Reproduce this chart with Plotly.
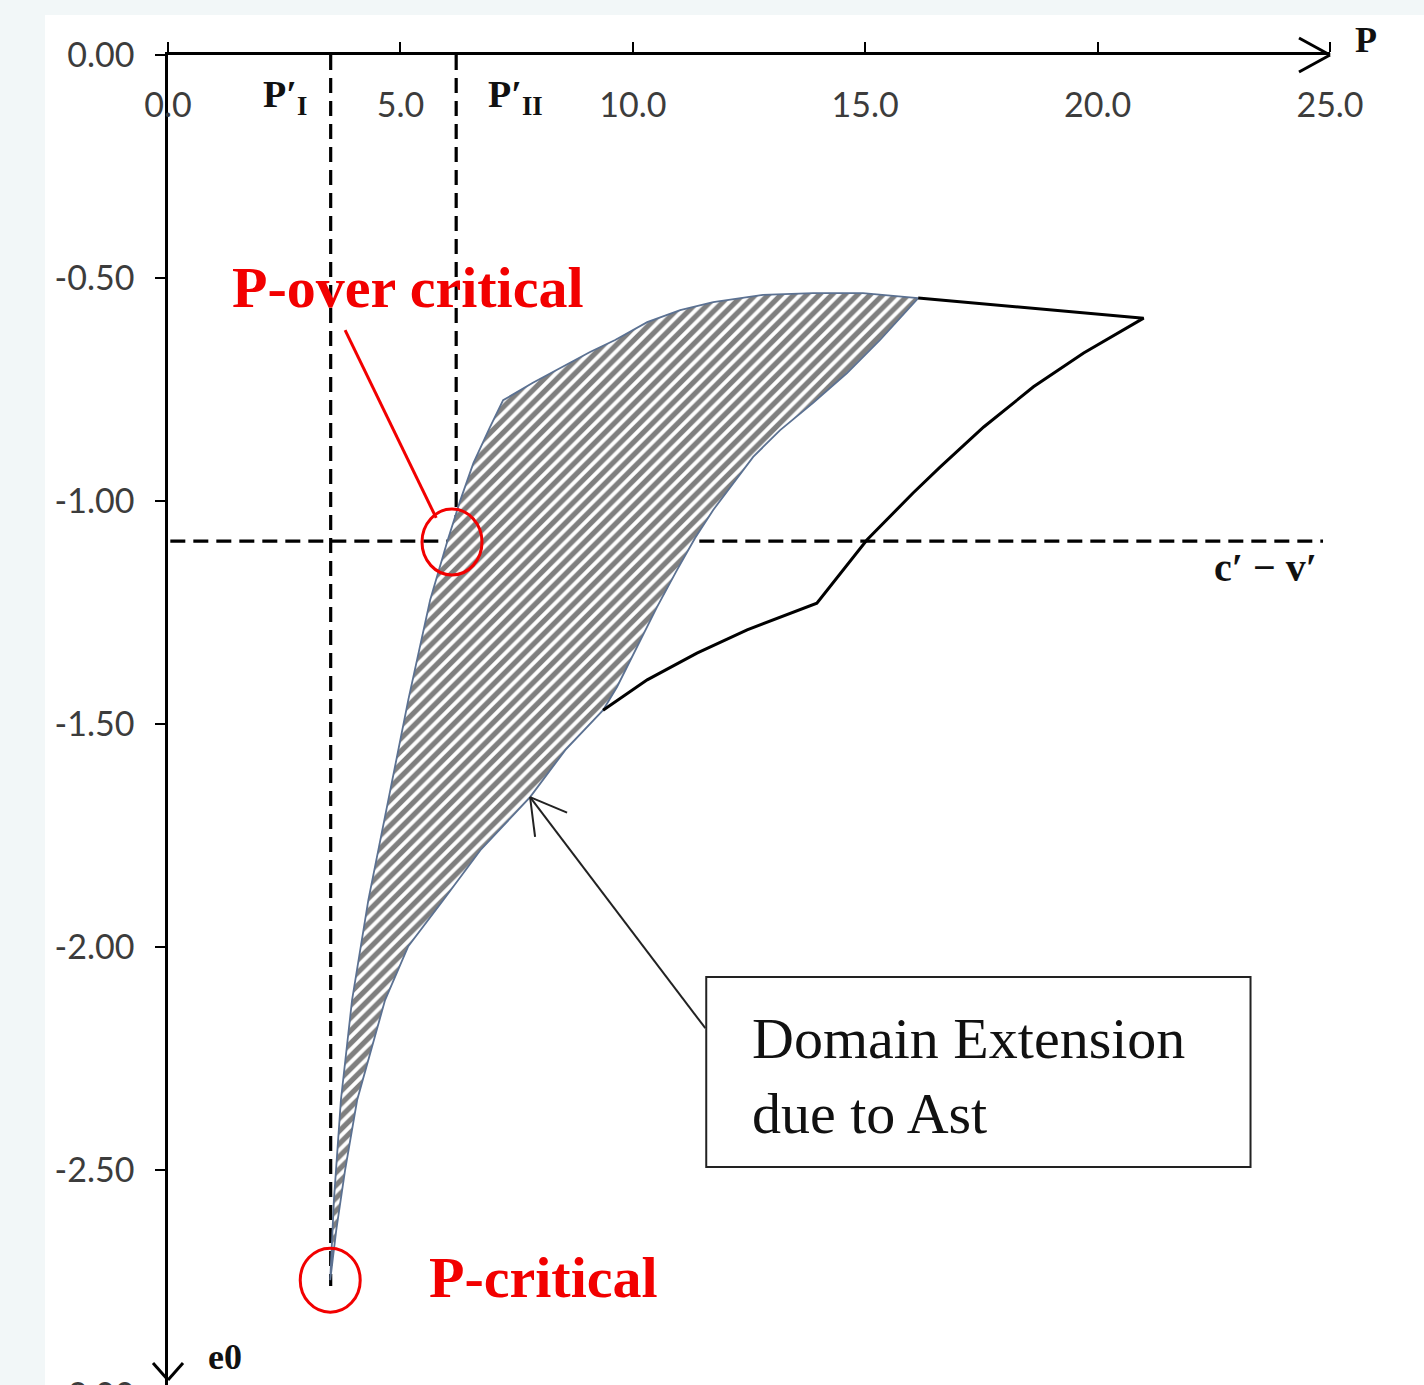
import plotly.graph_objects as go

# ---------------- data ----------------
P_I = 3.5          # P'_I
P_II = 6.2         # P'_II
CV = -1.09         # c' - v' level

# inner (hatched) domain: left/upper boundary, bottom -> top -> right
inner_x = [3.49, 3.57, 3.72, 3.96, 4.31, 4.74, 5.17, 5.64, 6.01, 6.29, 6.57, 6.93, 7.21,
           7.85, 8.58, 9.08, 9.62, 10.31, 11.02, 11.73, 12.80, 13.88, 14.95, 16.14]
inner_y = [-2.747, -2.567, -2.343, -2.119, -1.895, -1.670, -1.446, -1.222, -1.090, -0.998,
           -0.915, -0.834, -0.774, -0.735, -0.695, -0.666, -0.639, -0.599, -0.572, -0.554,
           -0.538, -0.534, -0.534, -0.545]
# right boundary, top -> bottom
outer_x = [16.14, 15.32, 14.61, 13.88, 13.17, 12.59, 12.09, 11.73, 11.34, 10.95, 10.52, 10.09,
           9.66, 9.36, 8.55, 7.79, 6.72, 5.92, 5.17, 4.67, 4.07, 3.81, 3.62, 3.49]
outer_y = [-0.545, -0.639, -0.713, -0.780, -0.841, -0.901, -0.969, -1.020, -1.083, -1.155,
           -1.238, -1.327, -1.417, -1.469, -1.558, -1.664, -1.783, -1.895, -1.998, -2.119,
           -2.343, -2.500, -2.635, -2.747]
# domain extension due to Ast (black line)
ext_x = [16.14, 20.99, 19.70, 18.62, 17.55, 16.61, 16.03, 15.04, 13.96, 12.46, 11.38, 10.31, 9.36]
ext_y = [-0.545, -0.590, -0.668, -0.744, -0.834, -0.924, -0.982, -1.087, -1.229, -1.289,
         -1.341, -1.401, -1.469]

x_ticks = [0, 5, 10, 15, 20, 25]
x_labels = ["0.0", "5.0", "10.0", "15.0", "20.0", "25.0"]
y_ticks = [0, -0.5, -1.0, -1.5, -2.0, -2.5]
y_labels = ["0.00", "-0.50", "-1.00", "-1.50", "-2.00", "-2.50"]

# ---------------- figure ----------------
W, H = 1424, 1385
ML, MR, MT, MB = 168, 94, 55, 0
PW, PH = W - ML - MR, H - MT - MB


def paper_x(px):
    return (px - ML) / PW


def paper_y(py):
    return 1 - (py - MT) / PH


fig = go.Figure()

dash = "15px,8px"
for xs, ys in [([P_I, P_I], [0, -2.76]), ([P_II, P_II], [0, -1.06]), ([0.05, 24.85], [CV, CV])]:
    fig.add_trace(go.Scatter(x=xs, y=ys, mode="lines",
                             line=dict(color="black", width=3.2, dash=dash), hoverinfo="skip"))

fig.add_trace(go.Scatter(x=inner_x + outer_x, y=inner_y + outer_y, mode="lines",
                         fill="toself", fillcolor="white",
                         fillpattern=dict(shape="/", fgcolor="#000000", bgcolor="white",
                                          size=9, solidity=0.58),
                         line=dict(color="#5b7192", width=1.8), hoverinfo="skip"))
fig.add_trace(go.Scatter(x=ext_x, y=ext_y, mode="lines",
                         line=dict(color="black", width=3), hoverinfo="skip"))
# invisible trace so the label axis (x2) exists
fig.add_trace(go.Scatter(x=[0], y=[0], xaxis="x2", mode="markers",
                         marker=dict(opacity=0), hoverinfo="skip"))

tickfont = dict(family="Lato, Carlito, sans-serif", size=34, color="#3c3c3c")
fig.update_layout(
    width=W, height=H, margin=dict(l=ML, r=MR, t=MT, b=MB),
    paper_bgcolor="white", plot_bgcolor="white", showlegend=False,
    xaxis=dict(range=[0, 25], side="top", tickvals=x_ticks, showticklabels=False,
               ticks="outside", ticklen=10, tickwidth=2, tickcolor="black",
               showline=True, linewidth=2.5, linecolor="black", showgrid=False,
               zeroline=False),
    xaxis2=dict(range=[0, 25], overlaying="x", anchor="free", position=1, side="bottom",
                tickvals=x_ticks, ticktext=x_labels, ticks="", showline=False,
                showgrid=False, zeroline=False, ticklabelstandoff=27, tickfont=tickfont),
    yaxis=dict(range=[-2.982, 0], tickvals=y_ticks, ticktext=y_labels,
               ticks="outside", ticklen=10, tickwidth=2, tickcolor="black",
               showline=True, linewidth=2.5, linecolor="black", showgrid=False,
               zeroline=False, ticklabelstandoff=14, tickfont=tickfont),
)

serif = "Liberation Serif, Times New Roman, serif"
red = "#f20000"

shapes = []
# light border strips of the original image
shapes.append(dict(type="rect", xref="paper", yref="paper", x0=paper_x(0), x1=paper_x(45),
                   y0=paper_y(H), y1=paper_y(0), fillcolor="#f2f7f8", line=dict(width=0), layer="above"))
shapes.append(dict(type="rect", xref="paper", yref="paper", x0=paper_x(0), x1=paper_x(W),
                   y0=paper_y(15), y1=paper_y(0), fillcolor="#f2f7f8", line=dict(width=0), layer="above"))
# red circles
for cx, cy, rx, ry in [(6.11, -1.092, 30, 33), (3.49, -2.747, 30, 32)]:
    shapes.append(dict(type="circle", xref="x", yref="y", xsizemode="pixel", ysizemode="pixel",
                       xanchor=cx, yanchor=cy, x0=-rx, x1=rx, y0=-ry, y1=ry,
                       line=dict(color=red, width=3)))
# red pointer line
shapes.append(dict(type="line", xref="x", yref="y", x0=3.81, y0=-0.617, x1=5.77, y1=-1.038,
                   line=dict(color=red, width=3)))
# text box
shapes.append(dict(type="rect", xref="x", yref="y", x0=11.58, x1=23.29, y0=-2.493, y1=-2.067,
                   line=dict(color="#222", width=2), fillcolor="rgba(0,0,0,0)"))
# arrow shaft from box to domain boundary
shapes.append(dict(type="line", xref="x", yref="y", x0=11.56, y0=-2.182, x1=7.79, y1=-1.664,
                   line=dict(color="#222", width=2)))


def vhead(tx, ty, arms, width, color="black", ref="x"):
    xr, yr = ("x", "y") if ref == "x" else ("paper", "paper")
    for dx, dy in arms:
        shapes.append(dict(type="line", xref=xr, yref=yr, xsizemode="pixel", ysizemode="pixel",
                           xanchor=tx, yanchor=ty, x0=0, y0=0, x1=dx, y1=dy,
                           line=dict(color=color, width=width)))


vhead(1.0, 1.0, [(-31, 17), (-31, -17)], 3, ref="paper")               # x-axis arrow
vhead(0.0, paper_y(1380), [(-15, 17), (15, 17)], 3, ref="paper")       # y-axis arrow
vhead(7.79, -1.664, [(37, -15.5), (5, -39.7)], 2, "#222")              # annotation arrow
fig.update_layout(shapes=shapes)

ann = []
# partially visible -3.00 label
ann.append(dict(x=paper_x(137), xref="paper", y=paper_y(1393), yref="paper", text="-3.00",
                showarrow=False, xanchor="right", yanchor="middle", font=tickfont))
# axis names
ann.append(dict(x=paper_x(1366), y=paper_y(40), xref="paper", yref="paper", text="<b>P</b>",
                xanchor="center", yanchor="middle",
                showarrow=False, font=dict(family=serif, size=36, color="#111")))
ann.append(dict(x=paper_x(225), y=paper_y(1357), xref="paper", yref="paper", text="<b>e0</b>",
                xanchor="center", yanchor="middle",
                showarrow=False, font=dict(family=serif, size=36, color="#111")))
ann.append(dict(x=2.52, y=-0.094, xref="x", yref="y", text="<b>P′<sub>I</sub></b>", showarrow=False,
                font=dict(family=serif, size=38, color="#111")))
ann.append(dict(x=7.47, y=-0.094, xref="x", yref="y", text="<b>P′<sub>II</sub></b>", showarrow=False,
                font=dict(family=serif, size=38, color="#111")))
ann.append(dict(x=23.62, y=-1.148, xref="x", yref="y", text="<b>c′ − v′</b>", showarrow=False,
                font=dict(family=serif, size=40, color="#111")))
# red labels
ann.append(dict(x=5.17, y=-0.522, xref="x", yref="y", text="<b>P-over critical</b>", showarrow=False,
                font=dict(family=serif, size=58, color=red)))
ann.append(dict(x=8.07, y=-2.742, xref="x", yref="y", text="<b>P-critical</b>", showarrow=False,
                font=dict(family=serif, size=58, color=red)))
# box text
ann.append(dict(x=12.53, y=-2.289, xref="x", yref="y", text="Domain Extension<br>due to Ast",
                showarrow=False, xanchor="left", yanchor="middle", align="left",
                font=dict(family=serif, size=58, color="#111")))
fig.update_layout(annotations=ann)

fig.write_html("out.html")
